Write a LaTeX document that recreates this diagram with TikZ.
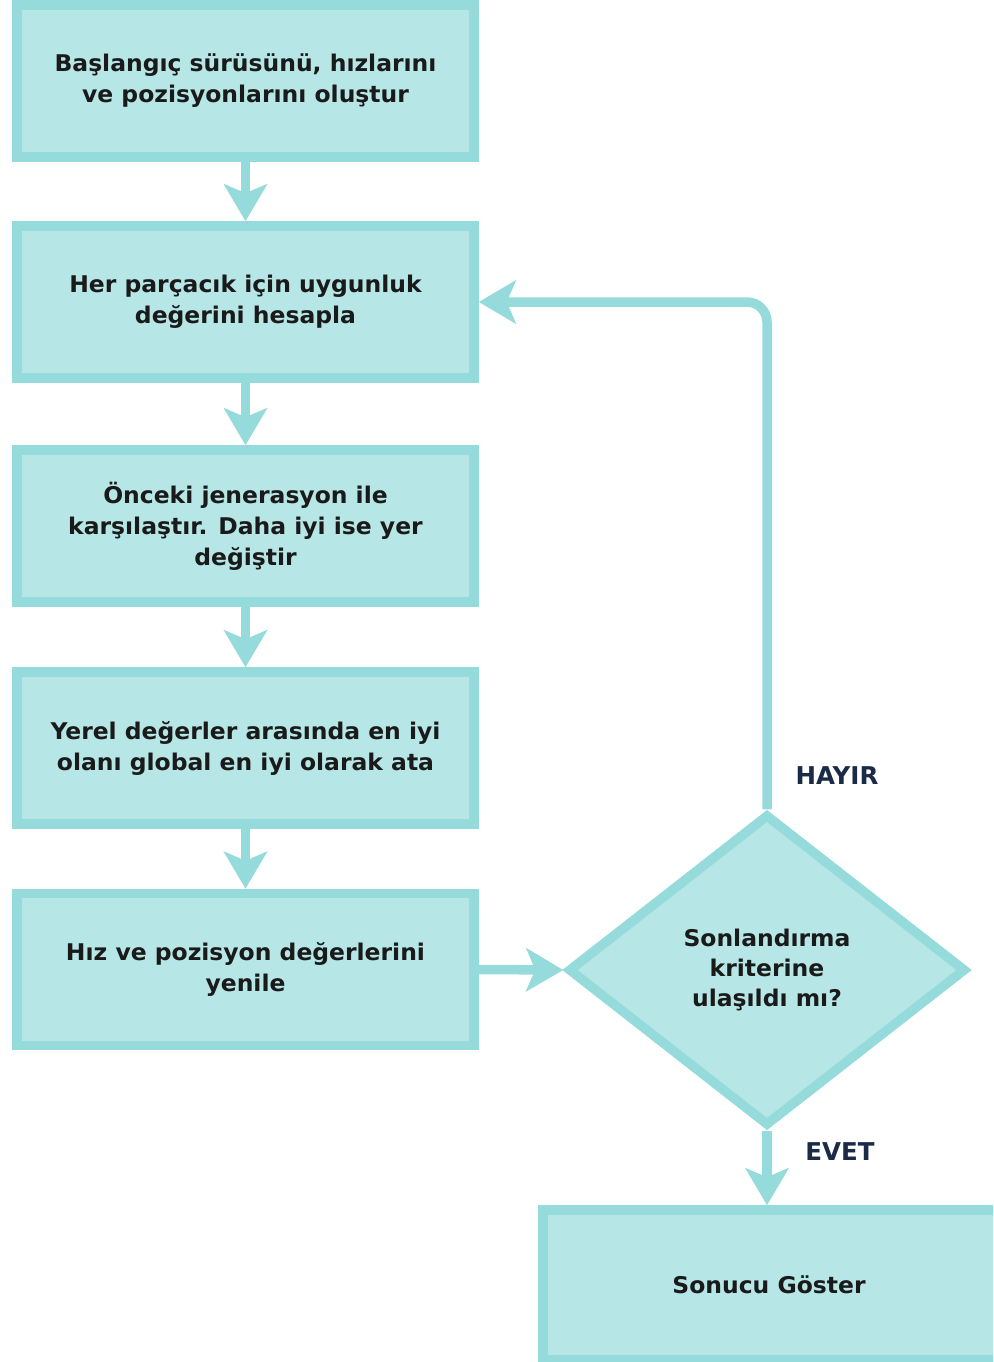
\documentclass[tikz,border=0pt]{standalone}
\usepackage{fontspec}
\setmainfont{DejaVu Sans}[FakeStretch=1.02]
\newfontfamily\labelfont{DejaVu Sans}
\usetikzlibrary{shapes.geometric,arrows.meta}
\definecolor{edgecol}{HTML}{96DBDB}
\definecolor{fillcol}{HTML}{B6E6E6}
\definecolor{txtcol}{HTML}{1A1A1A}
\definecolor{lblcol}{HTML}{1B2A47}
\tikzset{
  stepbox/.style={draw=edgecol, fill=fillcol, line width=9.5pt, rectangle,
    minimum width=457pt, minimum height=152pt, align=center, text=txtcol,
    font=\fontsize{23pt}{31pt}\selectfont\bfseries},
  endbox/.style={stepbox, minimum width=462pt, minimum height=150pt},
  decision/.style={draw=edgecol, fill=fillcol, line width=9.5pt, diamond,
    line join=miter, minimum width=398pt, minimum height=312pt, inner sep=0pt,
    align=center, text=txtcol, font=\fontsize{23pt}{30pt}\selectfont\bfseries},
  conn/.style={draw=edgecol, line width=9.5pt,
    -{Stealth[length=37pt, width=43pt, inset=9pt]}},
  answer/.style={text=lblcol, font=\labelfont\fontsize{24.5pt}{28pt}\selectfont\bfseries}
}
\begin{document}
\begin{tikzpicture}[x=1pt, y=-1pt]
  \useasboundingbox (0,0) rectangle (993,1362);
  \clip (0,0) rectangle (993,1362);

  % process steps, top to bottom
  \node[stepbox] (b1) at (245.5, 81) {Başlangıç sürüsünü, hızlarını\\ve pozisyonlarını oluştur};
  \node[stepbox] (b2) at (245.5, 302) {Her parçacık için uygunluk\\değerini hesapla};
  \node[stepbox] (b3) at (245.5, 526) {Önceki jenerasyon ile\\karşılaştır. Daha iyi ise yer\\değiştir};
  \node[stepbox] (b4) at (245.5, 748) {Yerel değerler arasında en iyi\\olanı global en iyi olarak ata};
  \node[stepbox] (b5) at (245.5, 969.5) {Hız ve pozisyon değerlerini\\yenile};

  % termination test and result
  \node[decision] (d) at (767, 970) {Sonlandırma\\kriterine\\ulaşıldı mı?};
  \node[endbox] (e) at (774, 1285) {\hspace*{-10pt}Sonucu Göster};

  % connectors
  \draw[conn] (b1) -- (b2);
  \draw[conn] (b2) -- (b3);
  \draw[conn] (b3) -- (b4);
  \draw[conn] (b4) -- (b5);
  \draw[conn] (b5.east) -- (d.west);
  \draw[conn] (d.south) -- (e.north -| d.south);
  \draw[conn, rounded corners=20pt] (d.north) |- (b2.east);

  \node[answer] (no) at (837, 776) {HAYIR};
  \node[answer] (yes) at (840, 1152) {EVET};
\end{tikzpicture}
\end{document}
